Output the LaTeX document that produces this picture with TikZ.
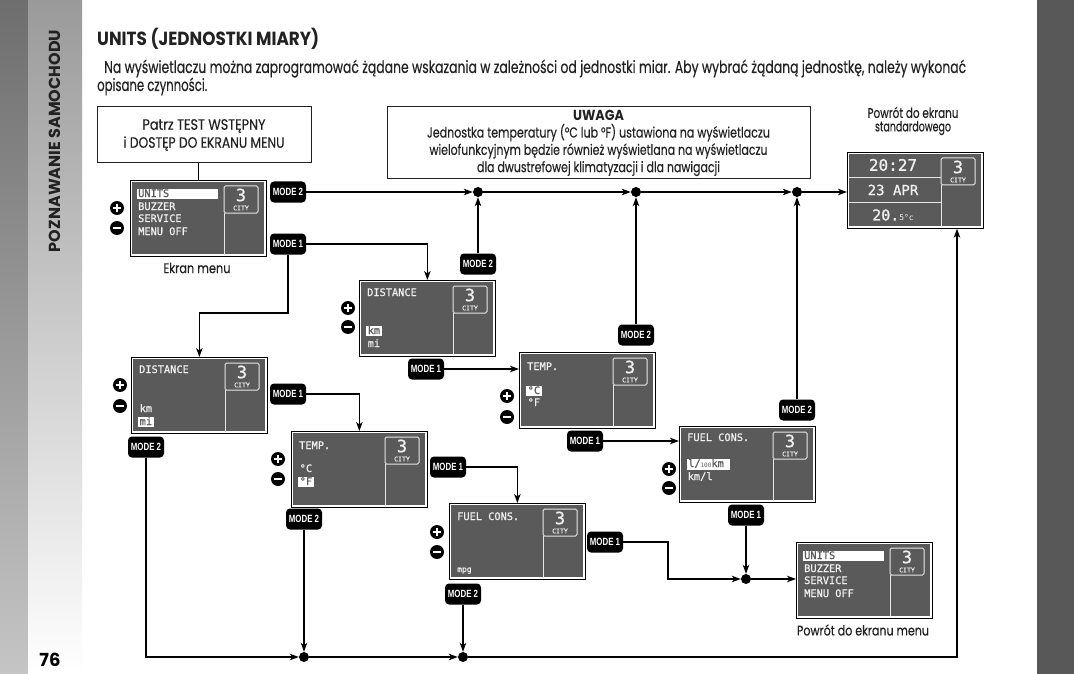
\documentclass[tikz,border=0pt]{standalone}
\usepackage{fontspec}
\usepackage{graphicx}
\usetikzlibrary{arrows.meta,calc}
\setmainfont{Poppins}
\newfontfamily\txtfont[FakeBold=0.35]{Poppins}
\newfontfamily\lcdfont[FakeBold=0.9]{DejaVu Sans Mono}
\newfontfamily\lcdplain{DejaVu Sans Mono}
\newfontfamily\modefont[FakeStretch=0.75]{Liberation Sans}
\newcommand\fw[2]{\resizebox{#1pt}{\height}{#2}}
\definecolor{lcd}{HTML}{5A5A5A}
\definecolor{lcdtext}{HTML}{F0F0F0}
\definecolor{lcdln}{HTML}{E6E6E6}
\definecolor{ink}{HTML}{222222}
\definecolor{sideA}{HTML}{6E6E6E}
\definecolor{sideB}{HTML}{9A9A9A}
\definecolor{rightg}{HTML}{585858}
\newcommand\lcdscreen[3]{%
  \node[screen, anchor=north west] (#1) at (#2,#3) {};
  \draw[white, line width=1.3pt] ($(#1.north west)+(1.8,1.8)$) rectangle ($(#1.south east)+(-1.8,-1.8)$);
  \draw[lcdline] ($(#1.north west)+(94,33)$) -- ($(#1.south west)+(94,-2)$);
  \draw[lcdline, rounded corners=1.5pt] ($(#1.north west)+(94,6)$) rectangle ($(#1.north west)+(128,33)$);
  \node[font=\lcdfont\fontsize{17}{17}\selectfont, text=lcdtext, inner sep=0] (#1-3) at ($(#1.north west)+(111,15)$) {3};
  \node[font=\lcdfont\fontsize{6.5}{7}\selectfont, text=lcdtext, inner sep=0] (#1-city) at ($(#1.north west)+(111,28)$) {CITY};
}
\newcommand\lcdtx[5]{\node[lcdt] (#1) at ($(#2.north west)+(#3,#4)$) {#5};}
\newcommand\lcdsl[5]{\node[lcdsel] (#1) at ($(#2.north west)+(#3,#4)$) {#5};}
\newcommand\menulist[1]{%
  \fill[white] ($(#1.north west)+(7,9)$) rectangle ($(#1.north west)+(88,19)$);
  \node[lcdt, text=lcd] (#1-u) at ($(#1.north west)+(8,14)$) {UNITS};
  \lcdtx{#1-b}{#1}{8}{27}{BUZZER}
  \lcdtx{#1-s}{#1}{8}{39}{SERVICE}
  \lcdtx{#1-m}{#1}{8}{52}{MENU OFF}
}
\begin{document}
\begin{tikzpicture}[x=1pt,y=-1pt,
  conn/.style={draw=black, line width=1.2pt},
  arr/.style={conn, -{Stealth[length=9pt,width=6.5pt,inset=2.5pt]}},
  dotn/.style={circle, fill=black, minimum size=10pt, inner sep=0},
  modeb/.style={fill=black, rounded corners=4pt, text=white, font=\modefont\bfseries\fontsize{10.5}{10.5}\selectfont, minimum width=36pt, minimum height=21pt, inner sep=0},
  screen/.style={rectangle, fill=lcd, draw=black, line width=0.7pt, minimum width=136pt, minimum height=76pt, inner sep=0},
  lcdline/.style={draw=lcdln, line width=1pt},
  lcdt/.style={font=\lcdfont\fontsize{10.3}{10}\selectfont, text=lcdtext, inner sep=0, text height=7pt, text depth=1pt, anchor=west},
  lcdsel/.style={lcdt, fill=white, text=lcd, inner xsep=1.5pt, inner ysep=1pt},
  plusb/.style={circle, fill=black, minimum size=14pt, inner sep=0, path picture={\draw[white, line width=2.2pt] ($(path picture bounding box.center)+(-4.3,0)$) -- ($(path picture bounding box.center)+(4.3,0)$) ($(path picture bounding box.center)+(0,-4.3)$) -- ($(path picture bounding box.center)+(0,4.3)$);}},
  minusb/.style={circle, fill=black, minimum size=14pt, inner sep=0, path picture={\draw[white, line width=2.4pt] ($(path picture bounding box.center)+(-4.3,0)$) -- ($(path picture bounding box.center)+(4.3,0)$);}},
  info/.style={draw=ink, line width=1pt, fill=white, align=center, inner sep=0, text=ink},
  lbl/.style={align=center, inner sep=0, text=ink}
]
\useasboundingbox (0,0) rectangle (1074,674);
\fill[white] (0,0) rectangle (1074,674);
% side strips
\shade[top color=sideA, bottom color=sideA!40!white] (0,0) rectangle (28,674);
\shade[top color=sideB, bottom color=white] (28,0) rectangle (82,674);
\fill[rightg] (1037,0) rectangle (1074,674);
\node[rotate=90, font=\bfseries\fontsize{16}{16}\selectfont, text=ink, inner sep=0] (side) at (55,141) {\fw{222}{POZNAWANIE SAMOCHODU}};
\node[font=\bfseries\fontsize{18}{18}\selectfont, text=black, inner sep=0] (pagen) at (50,660) {76};

% title and intro
\node[anchor=base west, font=\bfseries\fontsize{19}{19}\selectfont, text=ink, inner sep=0] (title) at (97,46) {\fw{222}{UNITS (JEDNOSTKI MIARY)}};
\node[anchor=base west, font=\txtfont\fontsize{17}{18}\selectfont, text=ink, inner sep=0] (par1) at (104,73) {\fw{862}{Na wyświetlaczu można zaprogramować żądane wskazania w zależności od jednostki miar. Aby wybrać żądaną jednostkę, należy wykonać}};
\node[anchor=base west, font=\txtfont\fontsize{17}{18}\selectfont, text=ink, inner sep=0] (par2) at (97,91) {\fw{110}{opisane czynności.}};

% info boxes
\node[info, minimum width=214pt, minimum height=56pt, font=\txtfont\fontsize{15}{18}\selectfont] (test) at (204,135) {\fw{123}{Patrz TEST WSTĘPNY}\\\fw{161}{i DOSTĘP DO EKRANU MENU}};
\node[info, minimum width=423pt, minimum height=72pt, font=\txtfont\fontsize{14.5}{17.3}\selectfont] (uwaga) at (598.5,143) {\fw{51}{\normalfont\bfseries\fontsize{14.5}{17.3}\selectfont UWAGA}\\\fw{343}{Jednostka temperatury (°C lub °F) ustawiona na wyświetlaczu}\\\fw{338}{wielofunkcyjnym będzie również wyświetlana na wyświetlaczu}\\\fw{243}{dla dwustrefowej klimatyzacji i dla nawigacji}};
\node[lbl, font=\txtfont\fontsize{14}{13.5}\selectfont] (stdlbl) at (913,121) {\fw{91}{Powrót do ekranu}\\\fw{76}{standardowego}};
\node[lbl, font=\txtfont\fontsize{14}{13.5}\selectfont] (menulbl) at (197,268) {\fw{67}{Ekran menu}};
\node[lbl, font=\txtfont\fontsize{14}{13.5}\selectfont] (retlbl) at (863,630) {\fw{132}{Powrót do ekranu menu}};

% screens
\lcdscreen{menu}{130}{180}
\menulist{menu}
\lcdscreen{retm}{796}{542}
\menulist{retm}
\lcdscreen{dist1}{359}{280}
\lcdtx{dist1-t}{dist1}{8}{13}{DISTANCE}
\lcdsl{dist1-km}{dist1}{7}{51}{km}
\lcdtx{dist1-mi}{dist1}{8.5}{64}{mi}
\lcdscreen{temp1}{519}{352}
\lcdtx{temp1-t}{temp1}{8}{15}{TEMP.}
\lcdsl{temp1-c}{temp1}{7}{39}{°C}
\lcdtx{temp1-f}{temp1}{8.5}{51}{°F}
\lcdscreen{dist2}{131}{357}
\lcdtx{dist2-t}{dist2}{8}{13}{DISTANCE}
\lcdtx{dist2-km}{dist2}{8.5}{52}{km}
\lcdsl{dist2-mi}{dist2}{7}{65}{mi}
\lcdscreen{temp2}{291}{431}
\lcdtx{temp2-t}{temp2}{8}{15}{TEMP.}
\lcdtx{temp2-c}{temp2}{8.5}{38}{°C}
\lcdsl{temp2-f}{temp2}{7}{51}{°F}
\lcdscreen{fuel2}{449}{503}
\lcdtx{fuel2-t}{fuel2}{8}{14}{FUEL CONS.}
\node[lcdt, font=\lcdfont\fontsize{8}{8}\selectfont] (fuel2-mpg) at ($(fuel2.north west)+(8,66)$) {mpg};
\lcdscreen{fuel1}{679}{426}
\lcdtx{fuel1-t}{fuel1}{8}{12}{FUEL CONS.}
\fill[white] ($(fuel1.north west)+(8,33)$) rectangle ($(fuel1.north west)+(51,44)$);
\node[lcdt, text=lcd] (fuel1-l) at ($(fuel1.north west)+(9,38)$) {l/{\lcdplain\fontsize{6}{6}\selectfont 100}km};
\lcdtx{fuel1-k}{fuel1}{8.5}{51}{km/l}
\lcdscreen{std}{847}{152}
\draw[lcdline] ($(std.north west)+(2,26)$) -- ($(std.north west)+(94,26)$);
\draw[lcdline] ($(std.north west)+(2,50)$) -- ($(std.north west)+(94,50)$);
\node[font=\lcdfont\fontsize{16}{16}\selectfont, text=lcdtext, inner sep=0] (std-time) at ($(std.north west)+(46,13)$) {20:27};
\node[font=\lcdfont\fontsize{14}{14}\selectfont, text=lcdtext, inner sep=0] (std-date) at ($(std.north west)+(46,38)$) {23 APR};
\node[font=\lcdfont\fontsize{15}{15}\selectfont, text=lcdtext, inner sep=0] (std-temp) at ($(std.north west)+(46,63)$) {20.{\lcdplain\fontsize{8}{8}\selectfont 5°c}};

% plus / minus buttons
\node[plusb] (pm1) at (117,208) {}; \node[minusb] (pm2) at (117,228) {};
\node[plusb] (pm3) at (348,308) {}; \node[minusb] (pm4) at (348,327) {};
\node[plusb] (pm5) at (507,396) {}; \node[minusb] (pm6) at (507,417) {};
\node[plusb] (pm7) at (120,385) {}; \node[minusb] (pm8) at (120,406) {};
\node[plusb] (pm9) at (278,459) {}; \node[minusb] (pm10) at (278,479) {};
\node[plusb] (pm11) at (437,532) {}; \node[minusb] (pm12) at (437,552) {};
\node[plusb] (pm13) at (669,469) {}; \node[minusb] (pm14) at (669,488) {};

% mode badges
\node[modeb] (m2a) at (288,192) {MODE 2};
\node[modeb] (m1a) at (288,244) {MODE 1};
\node[modeb] (m2b) at (478,264) {MODE 2};
\node[modeb] (m1b) at (426,369) {MODE 1};
\node[modeb] (m2c) at (636,335) {MODE 2};
\node[modeb] (m1c) at (585,441) {MODE 1};
\node[modeb] (m2d) at (797,410) {MODE 2};
\node[modeb] (m1d) at (746,515) {MODE 1};
\node[modeb] (m1e) at (288,394) {MODE 1};
\node[modeb] (m2e) at (146,447) {MODE 2};
\node[modeb] (m1f) at (448,467) {MODE 1};
\node[modeb] (m2f) at (304,519) {MODE 2};
\node[modeb] (m1g) at (605,542) {MODE 1};
\node[modeb] (m2g) at (463,594) {MODE 2};

% junction dots
\node[dotn] (dA) at (478,192) {};
\node[dotn] (dB) at (636,192) {};
\node[dotn] (dC) at (797,192) {};
\node[dotn] (dD) at (746,579) {};
\node[dotn] (dE) at (304,657) {};
\node[dotn] (dF) at (463,657) {};
\coordinate (j1) at (288,313);
\coordinate (j2) at (668,542);
\coordinate (j3) at (146,657);
\coordinate (j4) at (957,657);

% connectors
\draw[conn] (test.south -| menu.north) -- (menu.north);
\draw[arr] (m2a) -- (dA);
\draw[arr] (dA) -- (dB);
\draw[arr] (dB) -- (dC);
\draw[arr] (dC) -- (dC -| std.west);
\draw[arr] (m2b) -- (dA);
\draw[arr] (m2c) -- (dB);
\draw[arr] (m2d) -- (dC);
\draw[arr] (m1a.east) -| (dist1.north);
\draw[arr] (m1a.south) -- (j1) -| (dist2.north);
\draw[arr] (m1b.east) -- (m1b.east -| temp1.west);
\draw[arr] (m1c.east) -- (m1c.east -| fuel1.west);
\draw[arr] (m1e.east) -| (temp2.north);
\draw[arr] (m1f.east) -| (fuel2.north);
\draw[arr] (m1g.east) -- (j2) |- (dD);
\draw[arr] (m1d) -- (dD);
\draw[arr] (dD) -- (dD -| retm.west);
\draw[arr] (m2e.south) -- (j3) -- (dE);
\draw[arr] (m2f) -- (dE);
\draw[arr] (dE) -- (dF);
\draw[arr] (m2g) -- (dF);
\draw[arr] (dF) -- (j4) -- (j4 |- std.south);
\end{tikzpicture}
\end{document}
